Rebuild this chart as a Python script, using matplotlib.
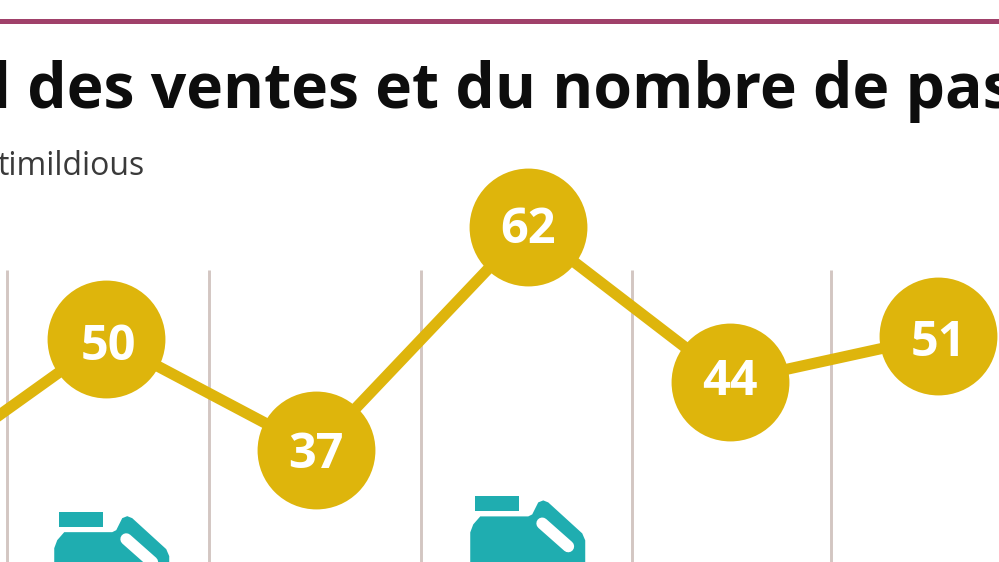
import matplotlib
matplotlib.use('Agg')
import matplotlib.pyplot as plt
from matplotlib.patches import Rectangle, Polygon

# values
slots = [0, 1, 2.01, 3.03, 4, 5]
heights = [32.7, 49.7, 37, 62.5, 44.8, 50.0]
labels = ['', '50', '37', '62', '44', '51']
separators = [0.524, 1.495, 2.514, 3.529, 4.486]
separator_top = 57.6
jug_slots = [1.03, 3.03]
jug_levels = [29.9, 31.7]
title = "l des ventes et du nombre de pas"
subtitle = "timildious"

gold = '#deb50c'
teal = '#1fadb0'
label_nudge = [(2, 9), (0, 6), (0, 4), (0, 1), (0, 7)]

plt.rcParams['font.family'] = ['Open Sans', 'DejaVu Sans']

fig = plt.figure(figsize=(9.99, 5.62), dpi=100, facecolor='white')

# overlay in pixels for the furniture
bg = fig.add_axes([0, 0, 1, 1])
bg.set_xlim(0, 999)
bg.set_ylim(562, 0)
bg.axis('off')
bg.plot([0, 999], [21, 21], color='#a0416a', lw=3.6, zorder=1)
bg.text(-8, 108, title, fontsize=45, fontweight='bold', color='#0d0d0d',
        va='baseline', ha='left')
bg.text(-2, 175, subtitle, fontsize=23, color='#3a3a3a', va='baseline', ha='left')

# chart axes, 208 px per slot, 8.755 px per unit
ax = fig.add_axes([0, 0, 1, 1])
ax.patch.set_alpha(0)
ax.set_xlim(102 / 208, (999 + 102) / 208)
ax.set_ylim(37 + (450 - 562) / 8.755, 37 + 450 / 8.755)
ax.axis('off')
bg.set_zorder(0)
ax.set_zorder(1)

ax.vlines(separators, ax.get_ylim()[0], separator_top, color='#d3c6c2', lw=2.1, zorder=1)
ax.plot(slots, heights, color=gold, lw=8, zorder=2)
ax.scatter(slots[1:], heights[1:], s=7200, color=gold, zorder=3, linewidths=0, clip_on=False)
for s, h, lab, nudge in zip(slots[1:], heights[1:], labels[1:], label_nudge):
    ax.annotate(lab, (s, h), xytext=(nudge[0] * 0.72, -nudge[1] * 0.72),
                textcoords='offset points', color='white', fontsize=35, fontweight='bold',
                ha='center', va='center', zorder=4)


def draw_jug(left, top):
    # icon outline, relative to the top left of the cap
    ax.add_patch(Rectangle((left + 5, top), 44, 15, color=teal, zorder=3, lw=0,
                           transform=bg.transData))
    outline = [(0, 90), (0, 36), (3, 28), (10, 20), (58, 20), (62, 18), (68, 6),
               (73, 4), (78, 6), (112, 37), (115, 44), (115, 90)]
    jug = ax.add_patch(Polygon([(left + a, top + b) for a, b in outline], closed=True,
                               color=teal, zorder=3, lw=0, transform=bg.transData))
    slot_line = ax.plot([left + 72, left + 98], [top + 27, top + 50], color='white', lw=8.5,
                        solid_capstyle='round', zorder=4, transform=bg.transData)[0]
    slot_line.set_clip_path(jug)


for s, lev in zip(jug_slots, jug_levels):
    dx, dy = ax.transData.transform((s, lev))
    draw_jug(dx - 58, 562 - dy)

fig.savefig('out.png', dpi=100)
